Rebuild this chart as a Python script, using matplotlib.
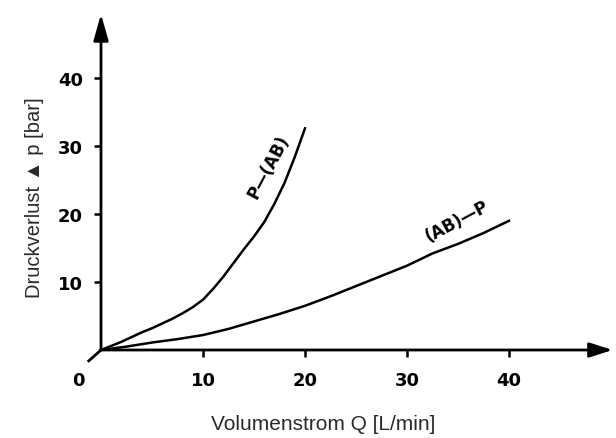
import numpy as np
import matplotlib
matplotlib.use("Agg")
from matplotlib import pyplot as plt

# Kennlinien
q_p_ab = [0, 1, 2, 3, 4, 5, 6, 7, 8, 9, 10, 11, 12, 13, 14, 15, 16, 17, 18, 19, 20]
dp_p_ab = [0, 0.6, 1.2, 1.9, 2.6, 3.2, 3.9, 4.6, 5.4, 6.3, 7.4, 9.0, 10.8,
           12.8, 14.8, 16.7, 18.8, 21.5, 24.6, 28.4, 32.6]
q_ab_p = [0, 2.5, 5, 7.5, 10, 12.5, 15, 17.5, 20, 22.5, 25, 27.5, 30, 32.5,
          35, 37.5, 40]
dp_ab_p = [0, 0.5, 1.1, 1.6, 2.2, 3.1, 4.2, 5.3, 6.5, 7.9, 9.4, 10.9, 12.4,
           14.2, 15.6, 17.2, 19.0]

x_ticks = [10, 20, 30, 40]
y_ticks = [10, 20, 30, 40]

W, H = 616, 439
fig = plt.figure(figsize=(W / 100, H / 100), dpi=100)
# axes box in pixels: origin (101,351), right end 610, top 15
x0, y0, x1, y1 = 101, 351, 610, 15
ax = fig.add_axes([x0 / W, 1 - y0 / H, (x1 - x0) / W, (y0 - y1) / H])
px_q = 10.2   # pixel per L/min
px_p = 6.8    # pixel per bar
ax.set_xlim(0, (x1 - x0) / px_q)
ax.set_ylim(0, (y0 - y1) / px_p)
for s in ax.spines.values():
    s.set_visible(False)

tick_font = dict(family="DejaVu Sans", fontweight="bold", fontsize=13)
ax.set_xticks(x_ticks)
ax.set_yticks(y_ticks)
ax.set_xticklabels([str(v) for v in x_ticks], **tick_font)
ax.set_yticklabels([str(v) for v in y_ticks], **tick_font)
ax.tick_params(axis="x", direction="out", length=5, width=1.8, pad=10)
ax.tick_params(axis="y", direction="out", length=5, width=1.8, pad=8)

# axes with arrows
ax.annotate("", xy=(1.005, 0), xytext=(0, 0), xycoords="axes fraction",
            arrowprops=dict(arrowstyle="-|>,head_length=1.4,head_width=0.45",
                            lw=2, color="black", shrinkA=0, shrinkB=0))
ax.annotate("", xy=(0, 1.0), xytext=(0, 0), xycoords="axes fraction",
            arrowprops=dict(arrowstyle="-|>,head_length=1.6,head_width=0.45",
                            lw=2, color="black", shrinkA=0, shrinkB=0))
# small stub below origin
ax.plot([0, -1.2], [0, -1.6], color="black", lw=2, clip_on=False)
ax.text(-2.2, -4.4, "0", ha="center", va="center", **tick_font)

ax.plot(q_p_ab, dp_p_ab, color="black", lw=1.8, clip_on=False)
ax.plot(q_ab_p, dp_ab_p, color="black", lw=1.8, clip_on=False)

lab_font = dict(family="DejaVu Sans", fontweight="bold", fontsize=12)
ax.text(16.4, 27.0, "P\u2014(AB)", rotation=62, ha="center", va="center",
        **lab_font)
ax.text(34.9, 19.0, "(AB)\u2014P", rotation=28, ha="center", va="center",
        **lab_font)

fig.text(323 / W, 1 - 425 / H, "Volumenstrom Q [L/min]", ha="center",
         va="center", fontsize=15, family="Liberation Sans",
         color="#2a2a2a")
fig.text(35 / W, 1 - 198 / H, "Druckverlust \u25b2 p [bar]", ha="center",
         va="center", rotation=90, fontsize=14.5,
         family=["Liberation Sans", "DejaVu Sans"], color="#2a2a2a")

fig.savefig("out.png", dpi=100)
